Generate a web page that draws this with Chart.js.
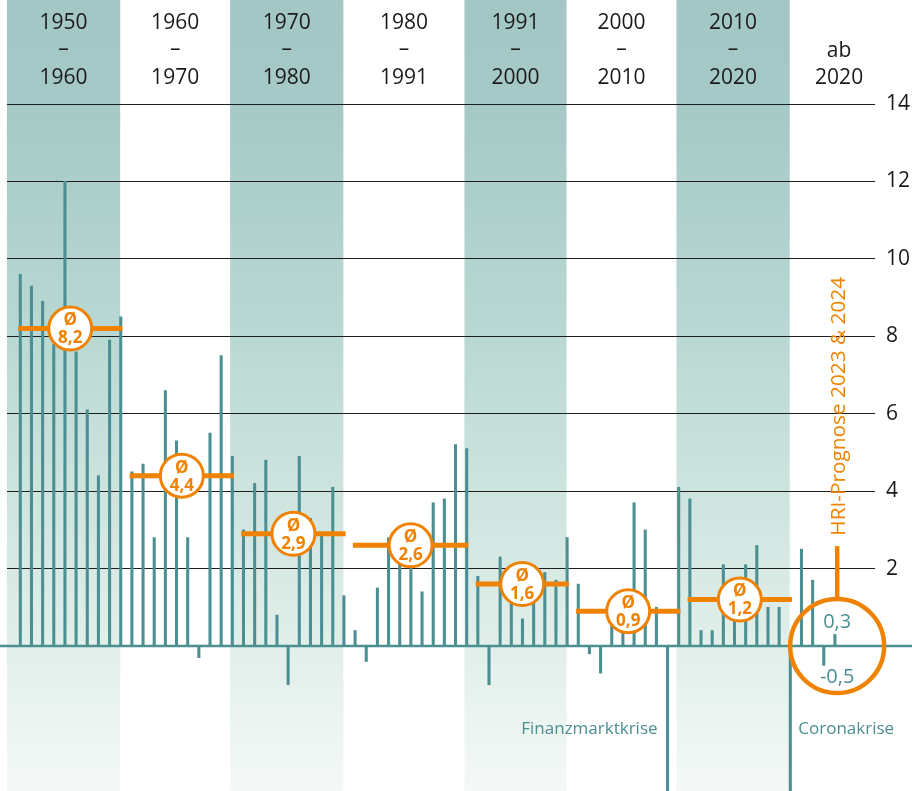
<!DOCTYPE html>
<html lang="de">
<head>
<meta charset="utf-8">
<title>Wirtschaftswachstum Deutschland 1951–2024</title>
<script src="https://cdn.jsdelivr.net/npm/chart.js@4.4.1/dist/chart.umd.min.js"></script>
<style>
  html, body { margin: 0; padding: 0; background: #fff; }
  #wrap { width: 912px; height: 791px; }
</style>
</head>
<body>
<div id="wrap"><canvas id="chart" width="912" height="791"></canvas></div>
<script>
"use strict";

// Jahre und reales BIP-Wachstum in %
var years = [
    1951, 1952, 1953, 1954, 1955, 1956, 1957, 1958, 1959, 1960,
    1961, 1962, 1963, 1964, 1965, 1966, 1967, 1968, 1969, 1970,
    1971, 1972, 1973, 1974, 1975, 1976, 1977, 1978, 1979, 1980,
    1981, 1982, 1983, 1984, 1985, 1986, 1987, 1988, 1989, 1990,
    1991, 1992, 1993, 1994, 1995, 1996, 1997, 1998, 1999, 2000,
    2001, 2002, 2003, 2004, 2005, 2006, 2007, 2008, 2009, 2010,
    2011, 2012, 2013, 2014, 2015, 2016, 2017, 2018, 2019, 2020,
    2021, 2022, 2023, 2024
];
var growth = [
    9.6, 9.3, 8.9, 7.8, 12.0, 7.6, 6.1, 4.4, 7.9, 8.5,
    4.5, 4.7, 2.8, 6.6, 5.3, 2.8, -0.3, 5.5, 7.5, 4.9,
    3.0, 4.2, 4.8, 0.8, -1.0, 4.9, 3.3, 2.9, 4.1, 1.3,
    0.4, -0.4, 1.5, 2.8, 2.3, 2.3, 1.4, 3.7, 3.8, 5.2,
    5.1, 1.8, -1.0, 2.3, 1.7, 0.7, 1.7, 1.9, 1.7, 2.8,
    1.6, -0.2, -0.7, 1.2, 0.7, 3.7, 3.0, 1.0, -5.7, 4.1,
    3.8, 0.4, 0.4, 2.1, 1.5, 2.1, 2.6, 1.0, 1.0, -3.8,
    2.5, 1.7, -0.5, 0.3
];

// Zeitraeume (Kopfzeile)
var periodFrom = [1950, 1960, 1970, 1980, 1991, 2000, 2010, 2020];
var periodTo = [1960, 1970, 1980, 1991, 2000, 2010, 2020, 2029];
var periodTop = ['1950', '1960', '1970', '1980', '1991', '2000', '2010', ''];
var periodMid = ['–', '–', '–', '–', '–', '–', '–', 'ab'];
var periodBottom = ['1960', '1970', '1980', '1991', '2000', '2010', '2020', '2020'];

// Durchschnitte je Zeitraum
var avgFrom = [1951, 1961, 1971, 1981, 1992, 2001, 2011];
var avgTo = [1960, 1970, 1980, 1991, 2000, 2010, 2020];
var avgValue = [8.2, 4.4, 2.9, 2.6, 1.6, 0.9, 1.2];

var forecastYears = [2023, 2024];
var yTicks = [2, 4, 6, 8, 10, 12, 14];

var TEAL = '#4b8f92';
var ORANGE = '#ef8200';
var FONT = '"Open Sans", "Noto Sans", sans-serif';

function fmt(v) {
    return v.toFixed(1).replace('.', ',');
}

var barData = years.map(function (y, i) { return { x: y, y: growth[i] }; });

var avgData = [];
avgValue.forEach(function (v, i) {
    avgData.push({ x: avgFrom[i] - 0.2, y: v });
    avgData.push({ x: avgTo[i] + 0.15, y: v });
    avgData.push({ x: avgTo[i] + 0.5, y: null });
});

// Hintergrundstreifen, Kopfzeile, Nulllinie, Beschriftungen
var bandsPlugin = {
    id: 'bands',
    beforeDraw: function (chart) {
        var ctx = chart.ctx, x = chart.scales.x, H = chart.height;
        ctx.save();
        var g = ctx.createLinearGradient(0, 0, 0, H);
        g.addColorStop(0, '#a2c7c5');
        g.addColorStop(0.13, '#a4c9c6');
        g.addColorStop(0.42, '#b9d8d3');
        g.addColorStop(0.82, '#e2efea');
        g.addColorStop(1, '#f4f9f6');
        periodFrom.forEach(function (from, i) {
            var l = x.getPixelForValue(from - 0.2);
            var r = x.getPixelForValue(periodTo[i] - 0.05);
            if (i % 2 === 0 && i < 7) {
                ctx.fillStyle = g;
                ctx.fillRect(l, 0, r - l, H);
            }
            var cx = (l + r) / 2;
            ctx.fillStyle = '#1a1a1a';
            ctx.font = '21px ' + FONT;
            ctx.textAlign = 'center';
            ctx.textBaseline = 'middle';
            if (periodTop[i]) ctx.fillText(periodTop[i], cx, 23);
            ctx.fillText(periodMid[i], cx, i === 7 ? 51 : 49);
            ctx.fillText(periodBottom[i], cx, 78);
        });
        ctx.restore();
    },
    beforeDatasetsDraw: function (chart) {
        var ctx = chart.ctx, y = chart.scales.y;
        var y0 = y.getPixelForValue(0);
        ctx.save();
        ctx.strokeStyle = TEAL;
        ctx.lineWidth = 2.5;
        ctx.beginPath();
        ctx.moveTo(0, y0);
        ctx.lineTo(chart.width, y0);
        ctx.stroke();

        // y-Achsenbeschriftung rechts
        ctx.fillStyle = '#1a1a1a';
        ctx.font = '21px ' + FONT;
        ctx.textAlign = 'left';
        ctx.textBaseline = 'middle';
        yTicks.forEach(function (v) {
            ctx.fillText(String(v), chart.chartArea.right + 11, y.getPixelForValue(v));
        });
        ctx.restore();
    },
    afterDatasetsDraw: function (chart) {
        var ctx = chart.ctx, x = chart.scales.x, y = chart.scales.y;
        ctx.save();
        // Durchschnitts-Kreise
        avgValue.forEach(function (v, i) {
            var cx = x.getPixelForValue((avgFrom[i] - 0.2 + avgTo[i] + 0.15) / 2);
            var cy = y.getPixelForValue(v);
            ctx.beginPath();
            ctx.arc(cx, cy, 21.5, 0, Math.PI * 2);
            ctx.fillStyle = '#fff';
            ctx.fill();
            ctx.lineWidth = 3;
            ctx.strokeStyle = ORANGE;
            ctx.stroke();
            ctx.fillStyle = ORANGE;
            ctx.font = 'bold 17px ' + FONT;
            ctx.textAlign = 'center';
            ctx.textBaseline = 'middle';
            ctx.fillText('Ø', cx, cy - 8);
            ctx.fillText(fmt(v), cx, cy + 10);
        });

        // Prognose-Kreis
        var fx = x.getPixelForValue(2024.2);
        var fy = y.getPixelForValue(0);
        ctx.beginPath();
        ctx.arc(fx, fy, 47, 0, Math.PI * 2);
        ctx.lineWidth = 4.5;
        ctx.strokeStyle = ORANGE;
        ctx.stroke();
        ctx.beginPath();
        ctx.moveTo(fx, fy - 47);
        ctx.lineTo(fx, y.getPixelForValue(2.58));
        ctx.stroke();

        ctx.save();
        ctx.translate(fx + 2, y.getPixelForValue(2.85));
        ctx.rotate(-Math.PI / 2);
        ctx.font = '20.8px ' + FONT;
        ctx.fillStyle = ORANGE;
        ctx.textAlign = 'left';
        ctx.textBaseline = 'middle';
        ctx.fillText('HRI-Prognose ' + forecastYears[0] + ' & ' + forecastYears[1], 0, 0);
        ctx.restore();

        ctx.font = '20px ' + FONT;
        ctx.fillStyle = TEAL;
        ctx.textAlign = 'center';
        ctx.textBaseline = 'middle';
        forecastYears.forEach(function (fy2) {
            var v = growth[years.indexOf(fy2)];
            ctx.fillText(fmt(v), fx, y.getPixelForValue(v >= 0 ? 0.62 : -0.8));
        });

        // Krisen
        ctx.font = '17px ' + FONT;
        ctx.textAlign = 'right';
        ctx.fillText('Finanzmarktkrise', x.getPixelForValue(2009) - 10, y.getPixelForValue(-2.14));
        ctx.textAlign = 'left';
        ctx.fillText('Coronakrise', x.getPixelForValue(2020) + 8, y.getPixelForValue(-2.14));
        ctx.restore();
    }
};

var ctx = document.getElementById('chart').getContext('2d');
var chart = new Chart(ctx, {
    type: 'bar',
    data: {
        datasets: [{
            type: 'line',
            data: avgData,
            borderColor: ORANGE,
            borderWidth: 5,
            borderCapStyle: 'butt',
            pointRadius: 0,
            spanGaps: false,
            order: 1
        }, {
            type: 'bar',
            data: barData,
            backgroundColor: TEAL,
            barThickness: 2.4,
            grouped: false,
            clip: false,
            order: 2
        }]
    },
    options: {
        responsive: false,
        animation: false,
        devicePixelRatio: 1,
        layout: { autoPadding: false, padding: { top: 104, left: 7, right: 0, bottom: 0 } },
        plugins: {
            legend: { display: false },
            tooltip: { enabled: false }
        },
        scales: {
            x: {
                type: 'linear',
                min: 1949.808,
                max: 2027.59,
                offset: false,
                display: false
            },
            y: {
                position: 'right',
                min: -3.745,
                max: 14,
                afterBuildTicks: function (axis) {
                    axis.ticks = yTicks.map(function (v) { return { value: v }; });
                },
                afterFit: function (axis) { axis.width = 37; },
                border: { display: false },
                grid: { color: '#1e1e1e', lineWidth: 1, drawTicks: false },
                ticks: { display: false }
            }
        }
    },
    plugins: [bandsPlugin]
});
</script>
</body>
</html>
